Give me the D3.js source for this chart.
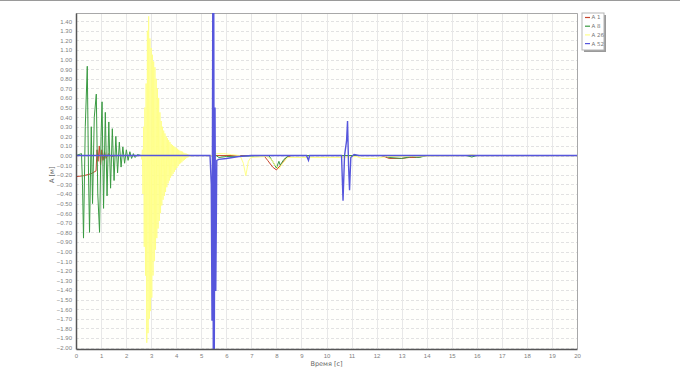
<!DOCTYPE html>
<html>
<head>
<meta charset="utf-8">
<script src="https://cdnjs.cloudflare.com/ajax/libs/d3/7.8.5/d3.min.js"></script>
<style>
  body { margin: 0; background: #ffffff; }
  svg { display: block; font-family: "DejaVu Sans", sans-serif; }
</style>
</head>
<body>
<div id="chart"></div>
<script>
// Series names, as in the legend
const seriesNames = ['A 1', 'A 8', 'A 26', 'A 52'];
const seriesColors = ['#c8452e', '#3a9a42', '#ffff8a', '#5656dc'];

// Tick values
const xTickValues = [0, 1, 2, 3, 4, 5, 6, 7, 8, 9, 10, 11, 12, 13, 14, 15, 16, 17, 18, 19, 20];
const yTickValues = [1.4, 1.3, 1.2, 1.1, 1.0, 0.9, 0.8, 0.7, 0.6, 0.5, 0.4, 0.3, 0.2, 0.1, 0.0,
  -0.1, -0.2, -0.3, -0.4, -0.5, -0.6, -0.7, -0.8, -0.9, -1.0, -1.1, -1.2, -1.3, -1.4, -1.5,
  -1.6, -1.7, -1.8, -1.9, -2.0];

// [time, amplitude] pairs per series
const a1Points = [
  [0, -0.22], [0.3, -0.21], [0.6, -0.19], [0.8, -0.16], [0.84, 0.06], [0.88, -0.06], [0.93, 0.10],
  [0.98, -0.10], [1.03, 0.06], [1.08, -0.05], [1.14, 0.04], [1.2, -0.03], [1.3, 0.02], [1.4, -0.01],
  [1.6, 0], [7.5, 0], [7.65, -0.05], [7.85, -0.12], [8.0, -0.15], [8.2, -0.09], [8.4, -0.02],
  [8.6, 0], [12.2, 0], [12.5, -0.03], [13.0, -0.03], [13.3, -0.02], [13.6, -0.02], [14, 0], [20, 0]
];

const a8Points = [
  [0, 0], [0.22, 0.02], [0.26, -0.30], [0.30, -0.86], [0.37, 0.30], [0.45, 0.93], [0.50, -0.20],
  [0.54, -0.80], [0.61, 0.30], [0.66, -0.50], [0.73, 0.40], [0.81, 0.64], [0.87, -0.40],
  [0.94, -0.80], [1.00, 0.20], [1.04, 0.56], [1.10, -0.55], [1.17, 0.45], [1.24, -0.42],
  [1.31, 0.35], [1.38, -0.34], [1.45, 0.28], [1.52, -0.26], [1.59, 0.20], [1.66, -0.18],
  [1.73, 0.14], [1.80, -0.12], [1.87, 0.09], [1.94, -0.08], [2.01, 0.06], [2.08, -0.05],
  [2.15, 0.04], [2.22, -0.03], [2.29, 0.02], [2.36, -0.02], [2.45, 0.01], [2.6, 0], [5.6, 0],
  [5.7, -0.02], [6.0, -0.01], [7.7, 0], [7.85, -0.06], [8.0, -0.13], [8.1, -0.06], [8.15, -0.10],
  [8.3, -0.04], [8.5, 0], [12.3, 0], [12.5, -0.02], [13.0, -0.03], [13.4, -0.01], [13.7, -0.02],
  [14, 0], [15.6, 0], [15.8, -0.015], [16, 0], [20, 0]
];

const a26Points = [
  [0, 0], [2.6, 0], [2.625, -0.04], [2.65, 0.06], [2.675, -0.40], [2.7, 0.30], [2.725, -0.95],
  [2.75, 0.50], [2.775, -1.25], [2.8, 0.75], [2.825, -1.95], [2.85, 1.30], [2.875, -1.85],
  [2.9, 1.45], [2.925, -1.70], [2.95, 1.22], [2.975, -1.62], [3.0, 1.12], [3.025, -1.48],
  [3.05, 1.05], [3.075, -1.25], [3.1, 0.98], [3.125, -1.10], [3.15, 0.92], [3.175, -0.98],
  [3.2, 0.80], [3.225, -0.86], [3.25, 0.70], [3.275, -0.76], [3.3, 0.60], [3.325, -0.68],
  [3.35, 0.45], [3.375, -0.60], [3.4, 0.36], [3.425, -0.52], [3.45, 0.30], [3.475, -0.46],
  [3.5, 0.26], [3.525, -0.42], [3.55, 0.23], [3.575, -0.38], [3.6, 0.20], [3.625, -0.33],
  [3.65, 0.18], [3.675, -0.29], [3.7, 0.16], [3.725, -0.26], [3.75, 0.14], [3.775, -0.23],
  [3.8, 0.12], [3.825, -0.21], [3.85, 0.11], [3.875, -0.19], [3.9, 0.10], [3.925, -0.17],
  [3.95, 0.09], [3.975, -0.15], [4.0, 0.08], [4.025, -0.13], [4.05, 0.07], [4.075, -0.11],
  [4.1, 0.06], [4.125, -0.09], [4.15, 0.05], [4.175, -0.08], [4.2, 0.045], [4.225, -0.07],
  [4.25, 0.04], [4.275, -0.055], [4.3, 0.03], [4.325, -0.045], [4.35, 0.025], [4.375, -0.035],
  [4.4, 0.02], [4.425, -0.025], [4.45, 0.015], [4.475, -0.018], [4.5, 0.01], [4.55, -0.01],
  [4.6, 0], [5.5, 0], [5.6, 0.02], [5.9, 0.02], [6.2, 0.01], [6.55, 0], [6.68, -0.08],
  [6.78, -0.21], [6.88, -0.06], [6.98, -0.02], [7.6, -0.01], [7.8, -0.04], [7.95, -0.10],
  [8.1, -0.14], [8.25, -0.08], [8.45, -0.02], [9.0, -0.02], [10.5, -0.02], [11.2, -0.01],
  [11.4, -0.03], [12.0, -0.03], [12.4, -0.01], [15.6, 0], [15.8, 0.01], [16.0, 0], [20, 0]
];

const a52Points = [
  [0, 0], [5.35, 0], [5.40, -0.30], [5.43, -1.72], [5.46, 1.60], [5.48, -2.10], [5.50, 1.60],
  [5.52, -2.10], [5.55, 0.50], [5.58, -1.41], [5.62, -0.05], [5.7, -0.04], [6.0, -0.03],
  [6.5, -0.01], [7.0, 0], [9.2, 0], [9.28, -0.05], [9.33, 0], [10.6, 0], [10.66, -0.47],
  [10.72, 0], [10.8, 0.15], [10.84, 0.36], [10.88, -0.10], [10.92, -0.36], [10.97, -0.02],
  [11.1, 0.01], [11.3, 0], [20, 0]
];

const seriesPoints = [a1Points, a8Points, a26Points, a52Points];

const width = 680;
const height = 368;
const margin = {top: 13, right: 103, bottom: 19, left: 76};
const graphWidth = width - margin.left - margin.right;
const graphHeight = height - margin.top - margin.bottom;

let svg = d3.select('#chart')
  .append('svg')
  .attr('width', width)
  .attr('height', height);

// thin frame line along the very top of the picture
svg.append('line')
  .attr('x1', 0).attr('x2', width)
  .attr('y1', 0.5).attr('y2', 0.5)
  .style('stroke', '#9a9a9a');

let chart = svg.append('g')
  .attr('transform', 'translate(' + margin.left + ',' + margin.top + ')');

let xScale = d3.scaleLinear().domain([0, 20]).range([0, graphWidth]);
let yScale = d3.scaleLinear().domain([-2.015, 1.485]).range([graphHeight, 0]);

// plot background
chart.append('rect')
  .attr('width', graphWidth)
  .attr('height', graphHeight)
  .style('fill', '#fffffc');

// grid
chart.append('g')
  .selectAll('line')
  .data(yTickValues)
  .enter().append('line')
  .attr('x1', 0).attr('x2', graphWidth)
  .attr('y1', d => Math.round(yScale(d)) + 0.5)
  .attr('y2', d => Math.round(yScale(d)) + 0.5)
  .style('stroke', '#e2e2e2')
  .style('stroke-dasharray', '3,2');

chart.append('g')
  .selectAll('line')
  .data(xTickValues)
  .enter().append('line')
  .attr('x1', d => Math.round(xScale(d)) + 0.5)
  .attr('x2', d => Math.round(xScale(d)) + 0.5)
  .attr('y1', 0).attr('y2', graphHeight)
  .style('stroke', '#e8e8e8');

// top and right border
chart.append('path')
  .attr('d', 'M0,0.5H' + (graphWidth + 0.5) + 'V' + graphHeight)
  .style('fill', 'none')
  .style('stroke', '#a8a8a8');

// series, clipped to the plot area
chart.append('clipPath')
  .attr('id', 'plotClip')
  .append('rect')
  .attr('width', graphWidth)
  .attr('height', graphHeight);

let line = d3.line()
  .x(d => xScale(d[0]))
  .y(d => yScale(d[1]));

let lines = chart.append('g').attr('clip-path', 'url(#plotClip)');
seriesPoints.forEach(function(points, i) {
  lines.append('path')
    .datum(points)
    .attr('d', line)
    .style('fill', 'none')
    .style('stroke', seriesColors[i])
    .style('stroke-width', i === 3 ? 1.4 : 1);
});

// axes
let xAxis = d3.axisBottom(xScale).tickValues(xTickValues).tickSize(0).tickPadding(5)
  .tickFormat(d3.format('d'));
let yAxis = d3.axisLeft(yScale).tickValues(yTickValues).tickSize(0).tickPadding(4)
  .tickFormat(d3.format('.2f'));

let xAxisG = chart.append('g')
  .attr('transform', 'translate(0,' + graphHeight + ')')
  .call(xAxis);
let yAxisG = chart.append('g').call(yAxis);

[xAxisG, yAxisG].forEach(function(g) {
  g.select('.domain').style('stroke', '#555').style('stroke-width', 1.5);
  g.selectAll('text').style('fill', '#808080').style('font-size', '6px');
});

// axis titles
chart.append('text')
  .attr('x', graphWidth / 2)
  .attr('y', graphHeight + 17)
  .attr('text-anchor', 'middle')
  .style('font-size', '6.5px')
  .style('fill', '#666')
  .text('Время [c]');

chart.append('text')
  .attr('transform', 'translate(' + (-22) + ',' + (yScale(-0.2)) + ') rotate(-90)')
  .attr('text-anchor', 'middle')
  .style('font-size', '6.5px')
  .style('fill', '#666')
  .text('A [м]');

// legend with a small drop shadow
let legend = svg.append('g')
  .attr('transform', 'translate(582,13)');
legend.append('rect')
  .attr('x', 2).attr('y', 2)
  .attr('width', 22).attr('height', 37)
  .style('fill', '#9a9a9a');
legend.append('rect')
  .attr('width', 22).attr('height', 37)
  .style('fill', '#ffffff')
  .style('stroke', '#b5b5b5');

seriesNames.forEach(function(name, i) {
  let row = legend.append('g').attr('transform', 'translate(0,' + (4.5 + i * 8.7) + ')');
  row.append('line')
    .attr('x1', 3).attr('x2', 8)
    .style('stroke', seriesColors[i])
    .style('stroke-width', 1.2);
  row.append('text')
    .attr('x', 9.5)
    .attr('dy', '0.35em')
    .style('font-size', '5.5px')
    .style('fill', '#777')
    .text(name);
});
</script>
</body>
</html>
